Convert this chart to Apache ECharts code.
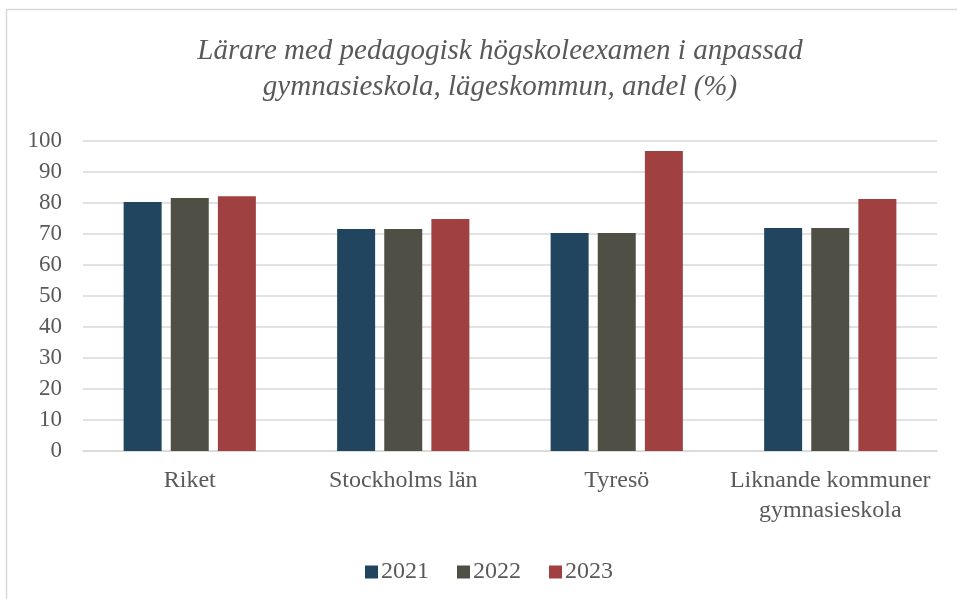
<!DOCTYPE html>
<html><head><meta charset="utf-8">
<script src="https://cdn.jsdelivr.net/npm/echarts@6/dist/echarts.min.js"></script>
<style>html,body{margin:0;padding:0;background:#fff}#c{width:957px;height:599px}</style>
</head><body><div id="c"></div>
<script>
const categories = ['Riket', 'Stockholms län', 'Tyresö', 'Liknande kommuner\ngymnasieskola'];
const years = ['2021', '2022', '2023'];
const v2021 = [80.3, 71.6, 70.3, 71.9];
const v2022 = [81.6, 71.6, 70.3, 71.9];
const v2023 = [82.2, 74.8, 96.8, 81.3];
const yTicks = [0, 10, 20, 30, 40, 50, 60, 70, 80, 90, 100];
const colors = ['#21455F', '#4F4F45', '#A04041'];
const seriesValues = [v2021, v2022, v2023];

const font = '"Liberation Serif", "Times New Roman", serif';
const chart = echarts.init(document.getElementById('c'));
chart.setOption({
  animation: false,
  textStyle: { fontFamily: font },
  graphic: [{ type: 'rect', left: 4, top: 7, shape: { width: 952, height: 600 },
    style: { fill: 'none', stroke: '#D9D9D9', lineWidth: 1.5 }, silent: true }],
  title: {
    text: 'Lärare med pedagogisk högskoleexamen i anpassad\ngymnasieskola, lägeskommun, andel (%)',
    left: 495, textAlign: 'center', top: 28,
    textStyle: { fontFamily: font, fontStyle: 'italic', fontWeight: 'normal', fontSize: 29, lineHeight: 36, color: '#595959' }
  },
  legend: {
    bottom: 10, left: 360, itemWidth: 13, itemHeight: 13, itemGap: 28,
    icon: 'rect',
    textStyle: { fontFamily: font, fontSize: 24, color: '#595959', padding: [0, 0, 0, -2] },
    data: years
  },
  grid: { left: 83, right: 20, top: 141, bottom: 148 },
  xAxis: {
    type: 'category', data: categories,
    axisLine: { show: true, lineStyle: { color: '#D9D9D9', width: 1.5 } },
    axisTick: { show: false },
    axisLabel: { interval: 0, fontFamily: font, fontSize: 24, color: '#595959', margin: 15, lineHeight: 30 }
  },
  yAxis: {
    type: 'value', min: yTicks[0], max: yTicks[yTicks.length - 1], interval: 10,
    axisLine: { show: false }, axisTick: { show: false },
    splitLine: { lineStyle: { color: '#D9D9D9', width: 1.5 } },
    axisLabel: { fontFamily: font, fontSize: 23, color: '#595959', margin: 21 }
  },
  series: years.map((y, i) => ({
    name: y, type: 'bar', data: seriesValues[i], barWidth: 38, barGap: '24%',
    itemStyle: { color: colors[i] }
  }))
});
</script></body></html>
